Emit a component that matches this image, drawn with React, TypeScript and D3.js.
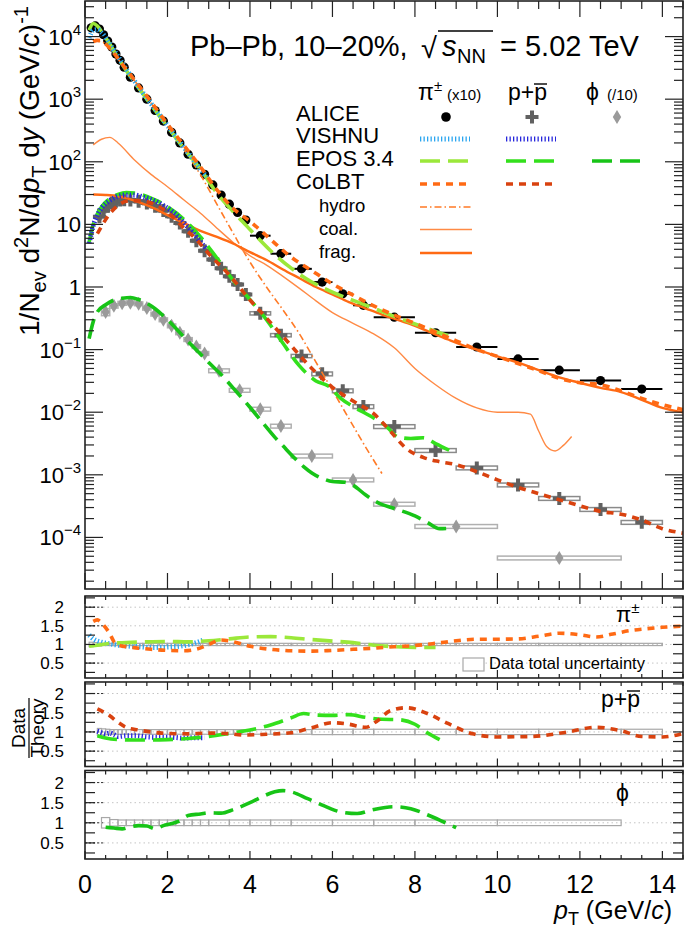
import React from "react";
import * as d3 from "d3";

const FONT = "Liberation Sans, Arial, Helvetica, sans-serif";

// ---------------- bins (pT edges, GeV/c) ----------------
const piEdges = [0.1, 0.2, 0.3, 0.4, 0.5, 0.6, 0.7, 0.8, 0.9, 1.0, 1.2, 1.4, 1.6, 1.8, 2.0, 2.2, 2.4, 2.6, 2.8, 3.0, 3.2, 3.4, 3.6, 3.8, 4.0, 4.5, 5.0, 5.5, 6.0, 6.5, 7.0, 8, 9, 10, 11, 12, 13, 14];
const pEdges = [0.3, 0.4, 0.5, 0.6, 0.7, 0.8, 0.9, 1.0, 1.2, 1.4, 1.6, 1.8, 2.0, 2.2, 2.4, 2.6, 2.8, 3.0, 3.2, 3.4, 3.6, 3.8, 4.0, 4.5, 5.0, 5.5, 6.0, 6.5, 7.0, 8, 9, 10, 11, 12, 13, 14];
const phiEdges = [0.4, 0.6, 0.8, 1.0, 1.2, 1.4, 1.6, 1.8, 2.0, 2.2, 2.4, 2.6, 2.8, 3.0, 3.5, 4.0, 4.5, 5.0, 6, 7, 8, 10, 13];

// ---------------- ALICE data ----------------
const piYield = [1.38e4, 1.48e4, 1.32e4, 1.07e4, 8.5e3, 6.8e3, 5.25e3, 4.17e3, 3.24e3, 2.24e3, 1.51e3, 1.0e3, 660, 447, 295, 200, 132, 89, 63, 42.7, 29.5, 21, 15.5, 11.7, 6.6, 3.4, 1.95, 1.2, 0.78, 0.51, 0.33, 0.186, 0.11, 0.071, 0.047, 0.032, 0.0234];
const piErr = [0.06, 0.05, 0.04, 0.03, 0.03, 0.03, 0.03, 0.03, 0.03, 0.03, 0.03, 0.03, 0.03, 0.03, 0.03, 0.03, 0.03, 0.03, 0.03, 0.03, 0.03, 0.03, 0.03, 0.03, 0.03, 0.03, 0.03, 0.03, 0.03, 0.03, 0.03, 0.03, 0.03, 0.03, 0.03, 0.03, 0.03];
const pYield = [13.2, 16.6, 19.5, 21.9, 23.4, 24.5, 24.8, 24.5, 23.4, 21.9, 19.5, 16.6, 13.5, 10.5, 7.8, 5.5, 3.8, 2.75, 2.0, 1.48, 1.1, 0.76, 0.38, 0.17, 0.079, 0.041, 0.022, 0.0123, 0.0059, 0.00245, 0.00129, 6.9e-4, 4.2e-4, 2.8e-4, 1.74e-4];
const pErr = [0.09, 0.08, 0.07, 0.06, 0.06, 0.06, 0.06, 0.06, 0.06, 0.06, 0.06, 0.06, 0.06, 0.06, 0.06, 0.06, 0.06, 0.06, 0.06, 0.06, 0.06, 0.06, 0.06, 0.06, 0.06, 0.07, 0.07, 0.07, 0.07, 0.07, 0.07, 0.07, 0.07, 0.07, 0.07];
const phiYield = [0.40, 0.50, 0.55, 0.56, 0.54, 0.46, 0.37, 0.30, 0.24, 0.186, 0.145, 0.112, 0.087, 0.046, 0.0224, 0.0112, 0.006, 0.002, 8.3e-4, 3.4e-4, 1.5e-4, 4.7e-5];
const phiErr = [0.13, 0.08, 0.07, 0.07, 0.07, 0.07, 0.07, 0.07, 0.07, 0.07, 0.07, 0.07, 0.07, 0.07, 0.07, 0.07, 0.07, 0.07, 0.07, 0.07, 0.07, 0.07];

// ---------------- model curves (pT, yield) ----------------
const vishnuPi: [number, number][] = [[0.1, 9.5e3], [0.2, 1.26e4], [0.3, 1.29e4], [0.4, 1.15e4], [0.6, 7.6e3], [0.8, 4.8e3], [1.0, 3.0e3], [1.3, 1.58e3], [1.6, 851], [2.0, 380], [2.4, 170], [2.8, 76], [2.95, 57.5]];
const eposPi: [number, number][] = [[0.1, 1.26e4], [0.2, 1.62e4], [0.3, 1.48e4], [0.4, 1.2e4], [0.6, 7.6e3], [0.8, 4.57e3], [1.0, 2.88e3], [1.3, 1.51e3], [1.6, 813], [2.0, 363], [2.4, 162], [2.8, 76], [3.2, 31.6], [3.6, 15.8], [4.0, 8.3], [4.5, 3.8], [5.0, 2.0], [5.5, 1.2], [6.0, 0.83], [6.5, 0.61], [7.0, 0.457], [7.5, 0.339], [8.0, 0.257], [8.5, 0.195], [8.9, 0.158]];
const colbtPi: [number, number][] = [[0.2, 8.3e3], [0.3, 8.7e3], [0.4, 8.5e3], [0.5, 7.6e3], [0.6, 6.5e3], [0.8, 4.47e3], [1.0, 3.0e3], [1.3, 1.66e3], [1.6, 912], [2.0, 398], [2.4, 182], [2.8, 83], [3.2, 35.5], [3.6, 17.8], [4.0, 11.2], [4.5, 5.75], [5.0, 3.0], [5.5, 1.82], [6.0, 1.12], [6.5, 0.74], [7.0, 0.5], [7.5, 0.355], [8.0, 0.263], [8.5, 0.19], [9.0, 0.138], [9.5, 0.1], [10.0, 0.078], [10.5, 0.06], [11.0, 0.046], [11.5, 0.0347], [12.0, 0.0295], [12.5, 0.0275], [13.0, 0.0219], [13.5, 0.0166], [14.0, 0.0132], [14.5, 0.011]];
const hydroPi: [number, number][] = [[0.2, 8.5e3], [0.4, 8.3e3], [0.6, 6.3e3], [1.0, 2.95e3], [1.5, 1.07e3], [2.0, 372], [2.5, 126], [2.8, 62], [3.2, 20.9], [3.6, 7.1], [4.0, 2.5], [4.4, 1.0], [4.8, 0.43], [5.2, 0.178], [5.6, 0.063], [6.0, 0.0224], [6.4, 0.0079], [6.8, 0.0028], [7.2, 0.00105]];
const coalPi: [number, number][] = [[0.2, 186], [0.4, 229], [0.6, 245], [0.8, 200], [1.2, 107], [1.6, 63], [2.0, 40], [2.4, 24.5], [2.8, 15.1], [3.2, 8.7], [3.6, 5.1], [4.0, 3.16], [4.4, 2.24], [4.8, 1.48], [5.2, 0.95], [5.6, 0.6], [6.0, 0.39], [6.5, 0.263], [7.0, 0.178], [7.5, 0.107], [8.0, 0.05], [8.5, 0.0275], [9.0, 0.0166], [9.5, 0.0117], [10.0, 0.01], [10.5, 0.01], [10.8, 0.0093], [11.0, 0.005], [11.2, 0.0028], [11.4, 0.0024], [11.6, 0.00295], [11.8, 0.0041]];
const fragPi: [number, number][] = [[0.2, 30], [0.5, 29.5], [0.8, 28.2], [1.2, 24], [1.6, 19], [2.0, 14.1], [2.4, 10.5], [2.8, 7.9], [3.2, 6.3], [3.6, 4.9], [4.0, 3.6], [4.4, 2.7], [4.8, 1.9], [5.2, 1.38], [5.6, 1.0], [6.0, 0.76], [6.4, 0.575], [6.8, 0.457], [7.2, 0.363], [7.6, 0.295], [8.0, 0.24], [8.4, 0.186], [8.8, 0.145], [9.2, 0.115], [9.6, 0.0955], [10.0, 0.078], [10.5, 0.062], [11.0, 0.047], [11.5, 0.036], [12.0, 0.0295], [12.5, 0.0245], [13.0, 0.021], [13.5, 0.0158], [14.0, 0.0117], [14.5, 0.01]];
const vishnuP: [number, number][] = [[0.1, 5.0], [0.2, 9.5], [0.3, 14.1], [0.4, 18.2], [0.6, 24], [0.8, 28.2], [1.0, 29.5], [1.2, 29.5], [1.4, 27.5], [1.6, 25.1], [1.8, 21.9], [2.0, 18.2], [2.2, 14.5], [2.4, 10.5], [2.6, 7.6], [2.8, 5.25], [2.95, 4.0]];
const eposP: [number, number][] = [[0.1, 5.2], [0.2, 10], [0.3, 14.8], [0.4, 19], [0.6, 25.7], [0.8, 30.2], [1.0, 32.4], [1.2, 31.6], [1.4, 29.5], [1.6, 26.3], [1.8, 22.9], [2.0, 19.1], [2.4, 12], [2.8, 6.3], [3.2, 2.9], [3.6, 1.26], [4.0, 0.63], [4.4, 0.3], [4.8, 0.126], [5.2, 0.055], [5.6, 0.0316], [5.9, 0.0263], [6.2, 0.0166], [6.5, 0.0123], [7.0, 0.0081], [7.3, 0.006], [7.6, 0.004], [7.9, 0.0038], [8.2, 0.0039], [8.5, 0.00316], [8.9, 0.00234]];
const colbtP: [number, number][] = [[0.3, 7.1], [0.4, 9.3], [0.6, 14.8], [0.8, 20], [1.0, 23.4], [1.2, 24], [1.5, 22.9], [1.8, 19.1], [2.1, 13.8], [2.4, 8.7], [2.7, 5.75], [3.0, 3.4], [3.5, 1.55], [4.0, 0.62], [4.5, 0.27], [5.0, 0.115], [5.5, 0.05], [6.0, 0.025], [6.5, 0.0151], [7.0, 0.0095], [7.4, 0.005], [7.8, 0.0026], [8.2, 0.0019], [8.6, 0.00162], [9.0, 0.00145], [9.5, 0.00112], [10.0, 8.3e-4], [10.5, 6.3e-4], [11.0, 5.0e-4], [11.5, 4.0e-4], [12.0, 3.2e-4], [12.5, 2.6e-4], [13.0, 2.35e-4], [13.5, 1.9e-4], [14.0, 1.38e-4], [14.5, 1.17e-4]];
const eposPhi: [number, number][] = [[0.1, 0.15], [0.2, 0.28], [0.3, 0.4], [0.5, 0.52], [0.7, 0.62], [0.9, 0.66], [1.1, 0.68], [1.3, 0.63], [1.5, 0.55], [1.7, 0.45], [2.0, 0.3], [2.2, 0.22], [2.5, 0.135], [2.8, 0.085], [3.0, 0.062], [3.3, 0.04], [3.6, 0.024], [4.0, 0.012], [4.3, 0.0069], [4.6, 0.004], [4.8, 0.0029], [5.1, 0.0018], [5.3, 0.00135], [5.5, 0.00107], [5.8, 8.5e-4], [6.0, 7.8e-4], [6.3, 7.6e-4], [6.5, 6.8e-4], [6.8, 4.8e-4], [7.1, 3.6e-4], [7.5, 2.9e-4], [8.0, 2.2e-4], [8.3, 1.74e-4], [8.6, 1.38e-4], [8.9, 1.41e-4]];

// ---------------- Data / Theory ratios ----------------
const vishnuPiRatio: [number, number][] = [[0.1, 1.25], [0.2, 1.15], [0.4, 1.06], [0.6, 1.02], [0.8, 0.98], [1.0, 0.96], [1.3, 0.94], [1.6, 0.92], [2.0, 0.93], [2.4, 0.97], [2.7, 1.05], [2.9, 1.13]];
const eposPiRatio: [number, number][] = [[0.1, 0.95], [0.3, 0.98], [0.6, 1.03], [1.0, 1.05], [1.5, 1.07], [2.0, 1.08], [2.5, 1.07], [3.0, 1.1], [3.5, 1.15], [4.0, 1.2], [4.5, 1.21], [5.0, 1.18], [5.5, 1.13], [6.0, 1.09], [6.5, 1.05], [7.0, 0.98], [7.5, 0.94], [8.0, 0.92], [8.5, 0.92]];
const colbtPiRatio: [number, number][] = [[0.2, 1.62], [0.3, 1.66], [0.4, 1.58], [0.5, 1.45], [0.6, 1.29], [0.7, 1.08], [0.8, 0.99], [1.0, 0.94], [1.3, 0.9], [1.6, 0.87], [2.0, 0.84], [2.4, 0.83], [2.7, 0.87], [3.0, 1.0], [3.3, 1.12], [3.6, 1.07], [4.0, 0.95], [4.5, 0.87], [5.0, 0.83], [5.5, 0.82], [6.0, 0.84], [6.5, 0.87], [7.0, 0.9], [7.5, 0.94], [8.0, 0.97], [8.5, 1.03], [9.0, 1.1], [9.5, 1.14], [10.0, 1.14], [10.5, 1.15], [11.0, 1.22], [11.5, 1.3], [12.0, 1.26], [12.4, 1.2], [12.8, 1.28], [13.2, 1.37], [13.6, 1.42], [14.0, 1.46], [14.5, 1.49]];
const vishnuPRatio: [number, number][] = [[0.3, 1.02], [0.4, 0.98], [0.5, 0.95], [0.6, 0.97], [0.7, 0.93], [0.8, 0.88], [1.0, 0.9], [1.2, 0.9], [1.5, 0.87], [1.8, 0.86], [2.1, 0.86], [2.4, 0.84], [2.7, 0.85], [2.9, 0.85]];
const eposPRatio: [number, number][] = [[0.3, 0.9], [0.5, 0.84], [0.8, 0.8], [1.2, 0.79], [1.6, 0.79], [2.0, 0.8], [2.5, 0.83], [3.0, 0.88], [3.5, 0.96], [4.0, 1.05], [4.5, 1.18], [5.0, 1.37], [5.3, 1.48], [5.6, 1.44], [6.0, 1.43], [6.4, 1.45], [6.8, 1.38], [7.2, 1.33], [7.6, 1.32], [8.0, 1.2], [8.3, 0.98], [8.6, 0.8]];
const colbtPRatio: [number, number][] = [[0.3, 1.6], [0.45, 1.52], [0.6, 1.42], [0.8, 1.25], [1.0, 1.12], [1.3, 1.05], [1.6, 1.0], [2.0, 0.96], [2.5, 0.95], [3.0, 0.97], [3.4, 0.96], [3.9, 0.92], [4.4, 0.94], [5.0, 0.98], [5.5, 1.11], [6.0, 1.24], [6.4, 1.2], [6.8, 1.12], [7.1, 1.3], [7.4, 1.55], [7.8, 1.63], [8.3, 1.48], [8.8, 1.22], [9.4, 0.95], [10.0, 0.87], [10.8, 0.88], [11.6, 0.98], [12.4, 1.12], [13.0, 1.03], [13.5, 0.88], [14.0, 0.87], [14.5, 0.96]];
const eposPhiRatio: [number, number][] = [[0.5, 0.89], [0.7, 0.87], [0.9, 0.85], [1.1, 0.9], [1.3, 0.93], [1.5, 0.92], [1.7, 0.85], [1.9, 0.93], [2.1, 0.98], [2.3, 1.05], [2.5, 1.18], [2.8, 1.22], [3.0, 1.25], [3.3, 1.24], [3.6, 1.33], [4.0, 1.5], [4.3, 1.65], [4.6, 1.77], [4.8, 1.8], [5.0, 1.77], [5.4, 1.6], [5.8, 1.42], [6.2, 1.27], [6.6, 1.23], [7.0, 1.33], [7.5, 1.4], [7.9, 1.35], [8.3, 1.2], [8.7, 1.02], [9.0, 0.88]];

// ---------------- axis labels ----------------
const xTickLabels = [0, 2, 4, 6, 8, 10, 12, 14];
const yDecades = [-4, -3, -2, -1, 0, 1, 2, 3, 4];
const ratioTickLabels = [2, 1.5, 1, 0.5];

// ---------------- styles ----------------
const ST: Record<string, { stroke: string; w: number; dash?: string }> = {
  vishnuPi: { stroke: "#2aa6f0", w: 5, dash: "1.3 2.2" },
  vishnuP: { stroke: "#2626dc", w: 5, dash: "1.3 2.2" },
  eposPi: { stroke: "#9be83a", w: 3.6, dash: "20 8" },
  eposP: { stroke: "#33e01c", w: 3.6, dash: "20 8" },
  eposPhi: { stroke: "#17c417", w: 3.6, dash: "20 8" },
  colbtPi: { stroke: "#ff6a14", w: 3.6, dash: "7 6" },
  colbtP: { stroke: "#d9420f", w: 3.6, dash: "7 6" },
  hydro: { stroke: "#ff7a26", w: 1.6, dash: "7 3 1.5 3" },
  coal: { stroke: "#ff8a45", w: 1.4 },
  frag: { stroke: "#ff6a14", w: 2.4 },
};

const mid = (e: number[], i: number) => (e[i] + e[i + 1]) / 2;

export default function App() {
  const x = d3.scaleLinear().domain([0, 14.5]).range([85, 683]);
  const y = d3.scaleLog().domain([1.5e-5, 3.7e4]).range([589, 1]);
  const panels = [
    { top: 596, bottom: 678 },
    { top: 682, bottom: 766.5 },
    { top: 770.5, bottom: 859 },
  ];
  const ry = panels.map((p) => d3.scaleLinear().domain([0.1, 2.3]).range([p.bottom, p.top]));

  const mainLine = d3
    .line<[number, number]>()
    .x((d) => x(d[0]))
    .y((d) => y(d[1]))
    .curve(d3.curveMonotoneX);
  const ratioLine = (k: number) =>
    d3
      .line<[number, number]>()
      .x((d) => x(d[0]))
      .y((d) => ry[k](d[1]))
      .curve(d3.curveMonotoneX);

  const path = (d: string | null, s: { stroke: string; w: number; dash?: string }, key: string) => (
    <path key={key} d={d || ""} fill="none" stroke={s.stroke} strokeWidth={s.w} strokeDasharray={s.dash} />
  );

  const xMinor = d3.range(0, 14.51, 0.5);
  const yTicks: { v: number; major: boolean }[] = [];
  for (let e = -5; e <= 4; e++) {
    for (let m = 1; m <= 9; m++) {
      const v = m * Math.pow(10, e);
      if (v >= 1.5e-5 && v <= 3.7e4) yTicks.push({ v, major: m === 1 });
    }
  }

  const cross = "M-2,-6.5h4v4.5h4.5v4h-4.5v4.5h-4v-4.5h-4.5v-4h4.5z";
  const diamond = "M0,-7L4.2,0L0,7L-4.2,0Z";

  const piIdx = d3.range(piYield.length);
  const pIdx = d3.range(pYield.length);
  const phiIdx = d3.range(phiYield.length);

  const ratioSeries: { k: number; series: [number, number][]; st: string }[] = [
    { k: 0, series: vishnuPiRatio, st: "vishnuPi" },
    { k: 0, series: eposPiRatio, st: "eposPi" },
    { k: 0, series: colbtPiRatio, st: "colbtPi" },
    { k: 1, series: vishnuPRatio, st: "vishnuP" },
    { k: 1, series: eposPRatio, st: "eposP" },
    { k: 1, series: colbtPRatio, st: "colbtP" },
    { k: 2, series: eposPhiRatio, st: "eposPhi" },
  ];
  const ratioBoxes = [
    { edges: piEdges, err: piErr },
    { edges: pEdges, err: pErr },
    { edges: phiEdges, err: phiErr },
  ];

  const legendRows = [
    { label: "ALICE", y: 121, small: false },
    { label: "VISHNU", y: 143, small: false },
    { label: "EPOS 3.4", y: 166, small: false },
    { label: "CoLBT", y: 189, small: false },
    { label: "hydro", y: 212, small: true },
    { label: "coal.", y: 235, small: true },
    { label: "frag.", y: 257.5, small: true },
  ];
  const legendLines: { st: string; x0: number; x1: number; y: number }[] = [
    { st: "vishnuPi", x0: 420, x1: 470, y: 139 },
    { st: "vishnuP", x0: 506, x1: 556, y: 139 },
    { st: "eposPi", x0: 420, x1: 472, y: 161 },
    { st: "eposP", x0: 506, x1: 558, y: 161 },
    { st: "eposPhi", x0: 592, x1: 644, y: 161 },
    { st: "colbtPi", x0: 420, x1: 467, y: 184 },
    { st: "colbtP", x0: 506, x1: 553, y: 184 },
    { st: "hydro", x0: 420, x1: 472, y: 207 },
    { st: "coal", x0: 420, x1: 472, y: 229.5 },
    { st: "frag", x0: 420, x1: 472, y: 253 },
  ];

  return (
    <svg
      width={685}
      height={929}
      viewBox="0 0 685 929"
      style={{ position: "absolute", left: 0, top: 0, background: "white" }}
      fontFamily={FONT}
    >
      <defs>
        <clipPath id="clipMain">
          <rect x={85} y={1} width={598} height={588} />
        </clipPath>
        {panels.map((p, k) => (
          <clipPath id={`clipR${k}`} key={k}>
            <rect x={85} y={p.top} width={598} height={p.bottom - p.top} />
          </clipPath>
        ))}
      </defs>
      <rect x={0} y={0} width={685} height={929} fill="white" />

      {/* ============ MAIN PANEL ============ */}
      <g clipPath="url(#clipMain)">
        {pIdx.map((i) => (
          <rect
            key={`pb${i}`}
            x={x(pEdges[i])}
            width={x(pEdges[i + 1]) - x(pEdges[i])}
            y={y(pYield[i] * (1 + pErr[i]))}
            height={y(pYield[i] * (1 - pErr[i])) - y(pYield[i] * (1 + pErr[i]))}
            fill="none"
            stroke="#8a8a8a"
            strokeWidth={1.5}
          />
        ))}
        {phiIdx.map((i) => (
          <rect
            key={`phib${i}`}
            x={x(phiEdges[i])}
            width={x(phiEdges[i + 1]) - x(phiEdges[i])}
            y={y(phiYield[i] * (1 + phiErr[i]))}
            height={y(phiYield[i] * (1 - phiErr[i])) - y(phiYield[i] * (1 + phiErr[i]))}
            fill="none"
            stroke="#b0b0b0"
            strokeWidth={1.5}
          />
        ))}
        {piIdx.map((i) => (
          <line key={`pil${i}`} x1={x(piEdges[i])} x2={x(piEdges[i + 1])} y1={y(piYield[i])} y2={y(piYield[i])} stroke="black" strokeWidth={2} />
        ))}
        {piIdx.map((i) => (
          <circle key={`pim${i}`} cx={x(mid(piEdges, i))} cy={y(piYield[i])} r={4.6} fill="black" />
        ))}
        {pIdx.map((i) => (
          <path key={`pm${i}`} d={cross} transform={`translate(${x(mid(pEdges, i))},${y(pYield[i])})`} fill="#616161" />
        ))}
        {phiIdx.map((i) => (
          <path key={`phim${i}`} d={diamond} transform={`translate(${x(mid(phiEdges, i))},${y(phiYield[i])})`} fill="#9a9a9a" />
        ))}

        {path(mainLine(hydroPi), ST.hydro, "hydro")}
        {path(mainLine(coalPi), ST.coal, "coal")}
        {path(mainLine(fragPi), ST.frag, "frag")}
        {path(mainLine(eposPhi), ST.eposPhi, "eposPhi")}
        {path(mainLine(eposP), ST.eposP, "eposP")}
        {path(mainLine(vishnuP), ST.vishnuP, "vishnuP")}
        {path(mainLine(colbtP), ST.colbtP, "colbtP")}
        {path(mainLine(eposPi), ST.eposPi, "eposPi")}
        {path(mainLine(vishnuPi), ST.vishnuPi, "vishnuPi")}
        {path(mainLine(colbtPi), ST.colbtPi, "colbtPi")}
      </g>

      <rect x={85} y={1} width={598} height={588} fill="none" stroke="#222" strokeWidth={1.6} />
      {xMinor.map((v, i) => {
        const major = Math.abs(v / 2 - Math.round(v / 2)) < 1e-6;
        const L = major ? 16 : 8;
        return (
          <g key={`mxt${i}`} stroke="#222" strokeWidth={1.2}>
            <line x1={x(v)} x2={x(v)} y1={1} y2={1 + L} />
            <line x1={x(v)} x2={x(v)} y1={589} y2={589 - L} />
          </g>
        );
      })}
      {yTicks.map((t, i) => {
        const L = t.major ? 18 : 9;
        return (
          <g key={`myt${i}`} stroke="#222" strokeWidth={1.2}>
            <line x1={85} x2={85 + L} y1={y(t.v)} y2={y(t.v)} />
            <line x1={683} x2={683 - L} y1={y(t.v)} y2={y(t.v)} />
          </g>
        );
      })}
      {yDecades.map((e) => (
        <text key={`yl${e}`} x={81} y={y(Math.pow(10, e)) + 8} textAnchor="end" fontSize={22} fill="black">
          {e === 0 ? "1" : "10"}
          {e !== 0 && e !== 1 ? (
            <tspan dy={-10} fontSize={15}>
              {e < 0 ? `\u2212${-e}` : `${e}`}
            </tspan>
          ) : null}
        </text>
      ))}

      {/* y title */}
      <text transform="translate(39,6) rotate(-90)" textAnchor="end" fontSize={28} fill="black">
        <tspan>1/N</tspan>
        <tspan dy={7} fontSize={20}>ev</tspan>
        <tspan dy={-7}> d</tspan>
        <tspan dy={-11} fontSize={20}>2</tspan>
        <tspan dy={11}>N/d</tspan>
        <tspan fontStyle="italic">p</tspan>
        <tspan dy={7} fontSize={20}>T</tspan>
        <tspan dy={-7}> d</tspan>
        <tspan fontStyle="italic">y</tspan>
        <tspan> (GeV/</tspan>
        <tspan fontStyle="italic">c</tspan>
        <tspan>)</tspan>
        <tspan dy={-11} fontSize={20}>-1</tspan>
      </text>

      {/* title */}
      <text x={190} y={56} fontSize={29}>Pb–Pb, 10–20%,</text>
      <text x={421} y={58} fontSize={29}>√</text>
      <line x1={438} x2={493} y1={31} y2={31} stroke="black" strokeWidth={1.6} />
      <text x={442} y={56} fontSize={29} fontStyle="italic">s</text>
      <text x={457} y={63} fontSize={20}>NN</text>
      <text x={500} y={56} fontSize={29}>= 5.02 TeV</text>

      {/* legend */}
      <text x={418} y={100} fontSize={23}>π<tspan dy={-9} fontSize={15}>±</tspan></text>
      <text x={447} y={100} fontSize={15}>(x10)</text>
      <text x={508} y={100} fontSize={23}>p+p</text>
      <line x1={534} x2={547} y1={84} y2={84} stroke="black" strokeWidth={1.4} />
      <text x={586} y={100} fontSize={23}>ϕ</text>
      <text x={607} y={100} fontSize={15}>(/10)</text>
      {legendRows.map((r) => (
        <text key={r.label} x={r.small ? 319 : 296} y={r.y} fontSize={r.small ? 18.5 : 22}>
          {r.label}
        </text>
      ))}
      <circle cx={446} cy={117} r={4.8} fill="black" />
      <path d={cross} transform="translate(532,117)" fill="#616161" />
      <path d={diamond} transform="translate(617,117)" fill="#9a9a9a" />
      {legendLines.map((l, i) => (
        <line
          key={`ll${i}`}
          x1={l.x0}
          x2={l.x1}
          y1={l.y}
          y2={l.y}
          stroke={ST[l.st].stroke}
          strokeWidth={ST[l.st].w}
          strokeDasharray={ST[l.st].dash}
        />
      ))}

      {/* ============ RATIO PANELS ============ */}
      {panels.map((p, k) => (
        <g key={`panel${k}`}>
          {ratioTickLabels.map((v) => (
            <g key={`g${v}`}>
              <line x1={85} x2={683} y1={ry[k](v)} y2={ry[k](v)} stroke="#c4c4c4" strokeWidth={1} strokeDasharray="1.5 3" />
              <line x1={85} x2={105} y1={ry[k](v)} y2={ry[k](v)} stroke="#333" strokeWidth={1} strokeDasharray="2 2" />
            </g>
          ))}
          <g clipPath={`url(#clipR${k})`}>
            {ratioBoxes[k].err.map((e, i) => (
              <rect
                key={`rb${i}`}
                x={x(ratioBoxes[k].edges[i])}
                width={x(ratioBoxes[k].edges[i + 1]) - x(ratioBoxes[k].edges[i])}
                y={ry[k](1 + e)}
                height={ry[k](1 - e) - ry[k](1 + e)}
                fill="none"
                stroke="#a8a8a8"
                strokeWidth={1.2}
              />
            ))}
            {ratioSeries
              .filter((s) => s.k === k)
              .map((s, i) => path(ratioLine(k)(s.series), ST[s.st], `rs${k}${i}`))}
          </g>
          <rect x={85} y={p.top} width={598} height={p.bottom - p.top} fill="none" stroke="#222" strokeWidth={1.6} />
          {xMinor.map((v, i) => {
            const major = Math.abs(v / 2 - Math.round(v / 2)) < 1e-6;
            const L = major ? 8 : 4;
            return (
              <g key={`rxt${i}`} stroke="#222" strokeWidth={1.2}>
                <line x1={x(v)} x2={x(v)} y1={p.top} y2={p.top + L} />
                <line x1={x(v)} x2={x(v)} y1={p.bottom} y2={p.bottom - L} />
              </g>
            );
          })}
          {d3.range(0.25, 2.3, 0.25).map((v, i) => (
            <g key={`ryt${i}`} stroke="#222" strokeWidth={1.2}>
              <line x1={85} x2={95} y1={ry[k](v)} y2={ry[k](v)} />
              <line x1={683} x2={673} y1={ry[k](v)} y2={ry[k](v)} />
            </g>
          ))}
          {ratioTickLabels.map((v) => (
            <text key={`rl${v}`} x={64} y={ry[k](v) + 6} textAnchor="end" fontSize={17}>
              {v}
            </text>
          ))}
        </g>
      ))}

      <text x={616} y={622} fontSize={22}>π<tspan dy={-9} fontSize={15}>±</tspan></text>
      <rect x={463} y={658} width={21} height={13} fill="white" stroke="#a8a8a8" strokeWidth={1.2} />
      <text x={489} y={669} fontSize={16.5}>Data total uncertainty</text>
      <text x={601} y={707} fontSize={23}>p+p</text>
      <line x1={627} x2={640} y1={691} y2={691} stroke="black" strokeWidth={1.4} />
      <text x={616} y={801} fontSize={23}>ϕ</text>

      <g transform="translate(0,728) rotate(-90)">
        <text x={0} y={25} textAnchor="middle" fontSize={19}>Data</text>
        <line x1={-30} x2={30} y1={29} y2={29} stroke="black" strokeWidth={1.2} />
        <text x={0} y={44} textAnchor="middle" fontSize={19}>Theory</text>
      </g>

      {xTickLabels.map((v) => (
        <text key={`xl${v}`} x={x(v)} y={893} textAnchor="middle" fontSize={25}>
          {v}
        </text>
      ))}
      <text x={672} y={919} textAnchor="end" fontSize={25}>
        <tspan fontStyle="italic">p</tspan>
        <tspan dy={6} fontSize={18}>T</tspan>
        <tspan dy={-6}> (GeV/</tspan>
        <tspan fontStyle="italic">c</tspan>
        <tspan>)</tspan>
      </text>
    </svg>
  );
}
